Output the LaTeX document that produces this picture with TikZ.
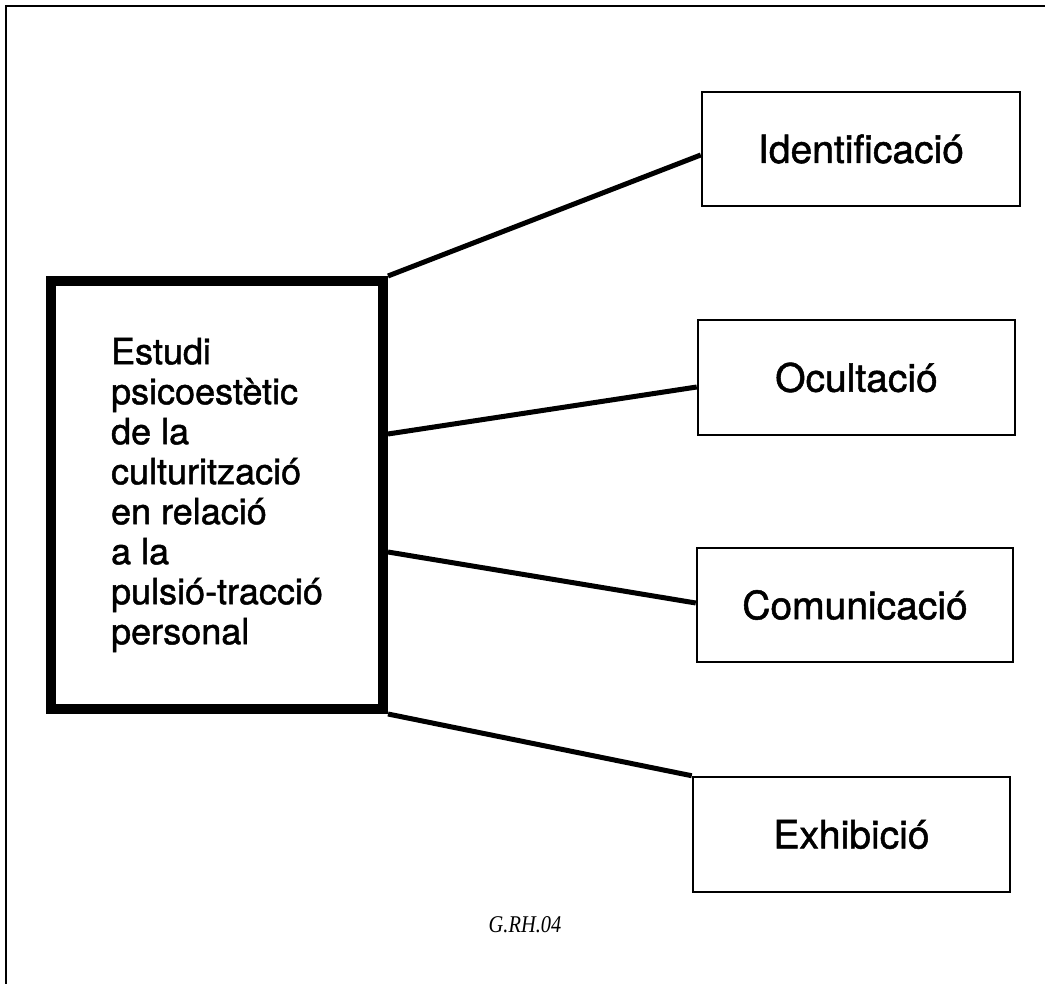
\documentclass[tikz,border=0pt]{standalone}
\usepackage{fontspec}
\setmainfont{TeX Gyre Heros}
\newfontfamily\heavyfont{TeX Gyre Heros}[FakeBold=1.3]
\newfontfamily\capfont{Liberation Serif}
\begin{document}
\begin{tikzpicture}[x=1pt,y=-1pt,
  mainbox/.style={draw, line width=10pt, minimum width=332pt, minimum height=428pt, inner sep=0pt, align=left, font=\heavyfont\fontsize{36}{40}\selectfont},
  itembox/.style={draw, line width=2.5pt, minimum width=317pt, minimum height=114pt, inner sep=0pt, font=\heavyfont\fontsize{39}{40}\selectfont},
  link/.style={line width=5pt},
  frameline/.style={line width=2pt}]
\useasboundingbox (0,0) rectangle (1045,984);
% outer frame (cropped)
\coordinate (fbl) at (6,992);
\coordinate (ftl) at (6,6);
\coordinate (ftr) at (1052,6);
\draw[frameline] (fbl) -- (ftl) -- (ftr);
% main box
\node[mainbox] (main) at (217,495) {Estudi\\psicoestètic\\de la\\culturització\\en relació\\a la\\pulsió-tracció\\personal};
% right boxes
\node[itembox, minimum width=318pt] (ident) at (861,149) {Identificació};
\node[itembox, minimum height=115pt] (ocul) at (856.5,377.5) {Ocultació};
\node[itembox, minimum width=316pt] (comu) at (855,605) {Comunicació};
\node[itembox, minimum height=115pt] (exhi) at (851.5,834.5) {Exhibició};
% connectors
\draw[link] (main.north east) -- ([yshift=-6pt]ident.west);
\draw[link] ([yshift=61pt]main.east) -- ([yshift=-9.5pt]ocul.west);
\draw[link] ([yshift=-57pt]main.east) -- ([yshift=2pt]comu.west);
\draw[link] (main.south east) -- (exhi.north west);
% caption
\node[font=\capfont\itshape\fontsize{24}{26}\selectfont] (cap) at (525,925) {\scalebox{0.85}[1]{G.RH.04}};
\end{tikzpicture}
\end{document}
